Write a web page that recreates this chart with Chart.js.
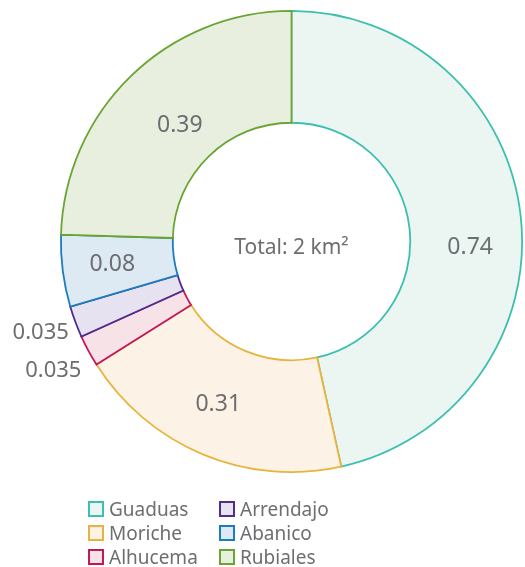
<!DOCTYPE html>
<html>
<head>
<meta charset="utf-8">
<script src="https://cdn.jsdelivr.net/npm/chart.js@4"></script>
<style>
  body { margin: 0; background: #fff; font-family: "Noto Sans", sans-serif; }
  #wrap { position: relative; width: 525px; height: 567px; }
  #legend { position: absolute; left: 88px; top: 497px; display: grid;
            grid-template-columns: 131px 120px; row-gap: 1px; color: #6d6e71; font-size: 19px; }
  .item { display: flex; align-items: center; height: 23px; }
  .box { width: 12px; height: 12px; border: 2px solid; margin-right: 5px; box-sizing: content-box; }
</style>
</head>
<body>
<div id="wrap">
  <canvas id="donut" width="525" height="567"></canvas>
  <div id="legend"></div>
</div>
<script>
let labels = ['Guaduas', 'Moriche', 'Alhucema', 'Arrendajo', 'Abanico', 'Rubiales'];
let values = [0.74, 0.31, 0.035, 0.035, 0.08, 0.39];
let valueText = ['0.74', '0.31', '0.035', '0.035', '0.08', '0.39'];
let borderColors = ['#3dbfad', '#e8b43e', '#c2185b', '#4e2d8f', '#1b7dbb', '#6aa533'];
let fillColors = ['#ebf6f3', '#fcf3e6', '#f7e2e8', '#e7e2f0', '#dde9f3', '#e8efdf'];
let totalText = 'Total: 2 km²';
// legend order: column-wise like the original
let legendOrder = [0, 3, 1, 4, 2, 5];

// label tweaks (small slices go outside)
let labelShift = [[5, 25], [-6, 2], [0, 16], [1, 8], [-6, 1], [10, 9]];
let outside = [false, false, true, true, false, false];

const textColor = '#6d6e71';

const labelPlugin = {
  id: 'sliceLabels',
  afterDatasetsDraw(chart) {
    const ctx = chart.ctx;
    const meta = chart.getDatasetMeta(0);
    ctx.save();
    ctx.fillStyle = textColor;
    ctx.textBaseline = 'middle';
    meta.data.forEach((arc, i) => {
      const p = arc.getProps(['x', 'y', 'startAngle', 'endAngle', 'innerRadius', 'outerRadius']);
      const mid = (p.startAngle + p.endAngle) / 2;
      let r = outside[i] ? p.outerRadius + 8 : (p.innerRadius + p.outerRadius) / 2;
      let x = p.x + Math.cos(mid) * r + labelShift[i][0];
      let y = p.y + Math.sin(mid) * r + labelShift[i][1];
      ctx.font = (outside[i] ? 22 : 23) + 'px "Noto Sans"';
      ctx.textAlign = outside[i] ? 'right' : 'center';
      ctx.fillText(valueText[i], x, y);
    });
    const a = meta.data[0];
    ctx.textAlign = 'center';
    ctx.font = '21px "Noto Sans"';
    ctx.fillText(totalText, a.x, a.y + 7);
    ctx.restore();
  }
};

new Chart(document.getElementById('donut'), {
  type: 'doughnut',
  data: {
    labels: labels,
    datasets: [{
      data: values,
      backgroundColor: fillColors,
      borderColor: borderColors,
      borderWidth: 1.8,
      borderJoinStyle: 'miter'
    }]
  },
  options: {
    responsive: false,
    animation: false,
    cutout: '51.5%',
    layout: { padding: { top: 10, left: 60, right: 2, bottom: 94 } },
    plugins: {
      legend: { display: false },
      tooltip: { enabled: false }
    }
  },
  plugins: [labelPlugin]
});

let legendEl = document.getElementById('legend');
legendOrder.forEach(i => {
  let d = document.createElement('div');
  d.className = 'item';
  d.innerHTML = '<span class="box" style="border-color:' + borderColors[i] + ';background:' + fillColors[i] + '"></span>' + labels[i];
  legendEl.appendChild(d);
});
</script>
</body>
</html>
